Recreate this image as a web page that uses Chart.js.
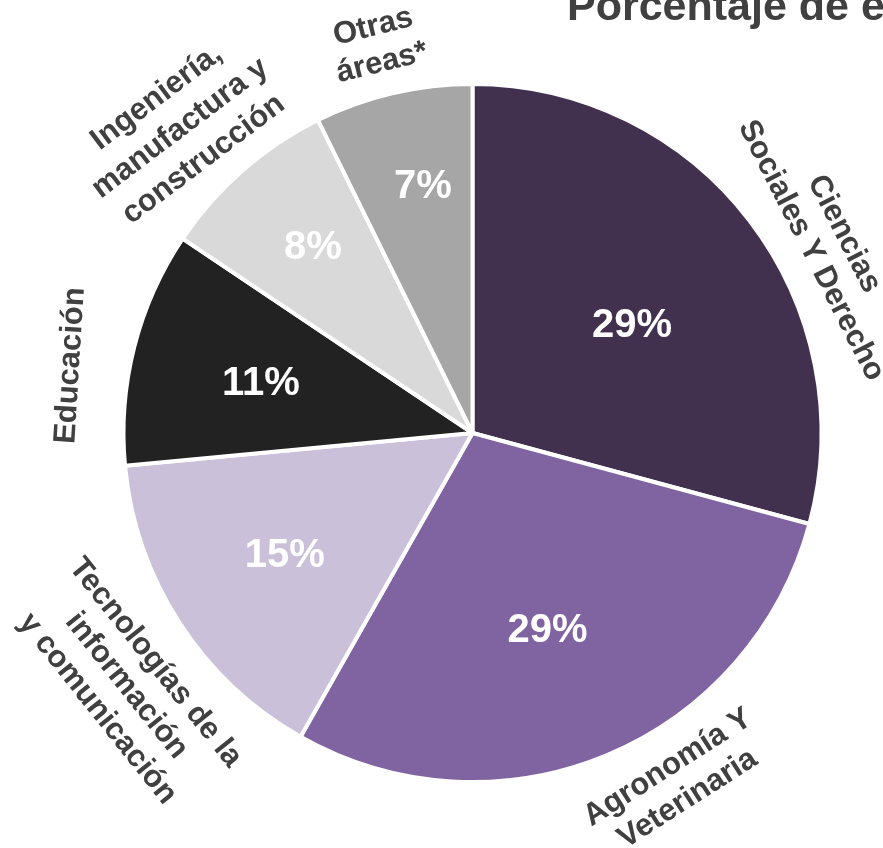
<!DOCTYPE html>
<html><head><meta charset="utf-8">
<script src="https://cdn.jsdelivr.net/npm/chart.js@4.4.1/dist/chart.umd.min.js"></script>
<style>html,body{margin:0;padding:0;background:#fff}#wrap{width:883px;height:848px;position:relative}</style>
</head><body><div id="wrap"><canvas id="c"></canvas></div>
<script>
const categories = [
  ['Ciencias', 'Sociales Y Derecho'],
  ['Agronomía Y', 'Veterinaria'],
  ['Tecnologías de la', 'información', 'y comunicación'],
  ['Educación'],
  ['Ingeniería,', 'manufactura y', 'construcción'],
  ['Otras', 'áreas*']
];
const values = [29.2, 29.0, 15.3, 10.9, 8.3, 7.3];
const percentLabels = ['29%', '29%', '15%', '11%', '8%', '7%'];
const titleText = 'Porcentaje de egresados por área de conocimiento';

const colors = ['#42304F', '#8064A2', '#CBC0DA', '#222222', '#D9D9D9', '#A6A6A6'];
// label placement relative to each slice: angle offset (deg) from slice middle, radius factor, text rotation (deg), line height
const outerLayout = [
  {da: 9.2, r: 1.155, rot: 63, lh: 37},
  {da: -7.7, r: 1.163, rot: -32.6, lh: 37},
  {da: -3.2, r: 1.228, rot: 51.4, lh: 37},
  {da: -4.7, r: 1.168, rot: -86.5, lh: 37},
  {da: -2.6, r: 1.21, rot: -37, lh: 39},
  {da: -0.6, r: 1.145, rot: -14, lh: 37}
];
const innerLayout = [
  {da: 3.6, r: 0.55}, {da: 1.9, r: 0.606}, {da: -0.2, r: 0.642},
  {da: -1.3, r: 0.622}, {da: 0.5, r: 0.701}, {da: 1.7, r: 0.718}
];
const FONT = '"Liberation Sans", Arial, sans-serif';

const labelPlugin = {
  id: 'labelPlugin',
  afterDatasetsDraw(chart) {
    const ctx = chart.ctx;
    const arcs = chart.getDatasetMeta(0).data;
    arcs.forEach((arc, i) => {
      const p = arc.getProps(['x', 'y', 'startAngle', 'endAngle', 'outerRadius'], true);
      const mid = (p.startAngle + p.endAngle) / 2;
      const il = innerLayout[i];
      const ai = mid + il.da * Math.PI / 180;
      const rx = p.x + Math.cos(ai) * p.outerRadius * il.r;
      const ry = p.y + Math.sin(ai) * p.outerRadius * il.r;
      ctx.save();
      ctx.fillStyle = '#FFFFFF';
      ctx.font = 'bold 40px ' + FONT;
      ctx.textAlign = 'center';
      ctx.textBaseline = 'middle';
      ctx.fillText(percentLabels[i], rx, ry);
      ctx.restore();
      const ol = outerLayout[i];
      const ao = mid + ol.da * Math.PI / 180;
      const ox = p.x + Math.cos(ao) * p.outerRadius * ol.r;
      const oy = p.y + Math.sin(ao) * p.outerRadius * ol.r;
      const lines = categories[i];
      ctx.save();
      ctx.translate(ox, oy);
      ctx.rotate(ol.rot * Math.PI / 180);
      ctx.fillStyle = '#404040';
      ctx.font = 'bold 31px ' + FONT;
      ctx.textAlign = 'center';
      ctx.textBaseline = 'middle';
      lines.forEach((t, k) => {
        ctx.fillText(t, 0, (k - (lines.length - 1) / 2) * ol.lh);
      });
      ctx.restore();
    });
    ctx.save();
    ctx.fillStyle = '#404040';
    ctx.font = 'bold 43px ' + FONT;
    ctx.textAlign = 'left';
    ctx.textBaseline = 'alphabetic';
    ctx.fillText(titleText, 567, 20);
    ctx.restore();
  }
};

new Chart(document.getElementById('c'), {
  type: 'pie',
  data: {
    labels: categories.map(l => l.join(' ')),
    datasets: [{
      data: values,
      backgroundColor: colors,
      borderColor: '#FFFFFF',
      borderWidth: 4
    }]
  },
  options: {
    responsive: true,
    maintainAspectRatio: false,
    animation: false,
    layout: {padding: {left: 121.5, right: 59.5, top: 82, bottom: 64}},
    plugins: {legend: {display: false}, tooltip: {enabled: false}}
  },
  plugins: [labelPlugin]
});
</script>
</body></html>
